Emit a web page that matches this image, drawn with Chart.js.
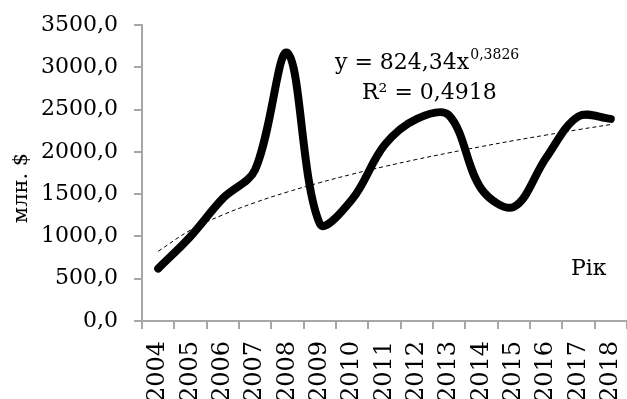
<!DOCTYPE html>
<html>
<head>
<meta charset="utf-8">
<script src="https://cdn.jsdelivr.net/npm/chart.js@4"></script>
<style>
  html, body { margin: 0; padding: 0; background: #fff; }
  #wrap { width: 627px; height: 399px; }
</style>
</head>
<body>
<div id="wrap"><canvas id="exportChart" width="627" height="399"></canvas></div>
<script>
// years and export values, млн. $
const years = ['2004','2005','2006','2007','2008','2009','2010','2011','2012','2013','2014','2015','2016','2017','2018'];
const exportValues = [620, 1000, 1450, 1790, 3170, 1150, 1440, 2080, 2390, 2430, 1560, 1350, 1930, 2420, 2390];
// power trend y = 824,34x^0,3826
const trendValues = [824, 1075, 1255, 1401, 1526, 1636, 1736, 1827, 1911, 1989, 2063, 2133, 2199, 2263, 2323];
const yTicks = [0, 500, 1000, 1500, 2000, 2500, 3000, 3500];

const FONT = "'DejaVu Serif'";
const axisGray = '#a6a6a6';

// extra texts: trend equation, R², axis word, y title
const notes = {
  id: 'notes',
  afterDraw(chart) {
    const c = chart.ctx;
    c.save();
    c.fillStyle = '#000';
    c.textBaseline = 'alphabetic';
    c.textAlign = 'left';
    c.font = "22px " + FONT;
    const eq = 'y = 824,34x';
    c.fillText(eq, 335, 69);
    const w = c.measureText(eq).width;
    c.font = "14px " + FONT;
    c.fillText('0,3826', 335 + w + 1, 59);
    c.font = "22px " + FONT;
    c.fillText('R² = 0,4918', 362, 99);
    c.fillText('Рік', 571, 275);
    // y axis title
    c.translate(22, 188);
    c.rotate(-Math.PI / 2);
    c.textAlign = 'center';
    c.textBaseline = 'middle';
    c.font = "21px " + FONT;
    c.fillText('млн. $', 0, 0);
    c.restore();
  }
};

const ctx = document.getElementById('exportChart').getContext('2d');
new Chart(ctx, {
  type: 'line',
  data: {
    labels: years,
    datasets: [{
      data: exportValues,
      borderColor: '#000',
      borderWidth: 8,
      borderCapStyle: 'round',
      borderJoinStyle: 'round',
      tension: 0.35,
      pointRadius: 0,
      fill: false
    }, {
      data: trendValues,
      borderColor: '#000',
      borderWidth: 1,
      borderDash: [4, 3],
      tension: 0.4,
      pointRadius: 0,
      fill: false
    }]
  },
  options: {
    responsive: false,
    animation: false,
    layout: { padding: { top: 25, right: -5, left: 0, bottom: 0 } },
    plugins: { legend: { display: false }, tooltip: { enabled: false } },
    scales: {
      x: {
        offset: true,
        grid: { display: true, drawOnChartArea: false, offset: true, color: axisGray, tickLength: 8, lineWidth: 2 },
        border: { color: axisGray, width: 2 },
        ticks: { minRotation: 90, maxRotation: 90, color: '#000', padding: 12, font: { family: FONT, size: 24 } },
        afterFit(s) { s.height = 78; s.paddingLeft = 0; s.paddingRight = 0; }
      },
      y: {
        min: 0, max: 3500,
        afterBuildTicks(s) { s.ticks = yTicks.map(v => ({ value: v })); },
        grid: { display: true, drawOnChartArea: false, color: axisGray, tickLength: 8, lineWidth: 2 },
        border: { color: axisGray, width: 2 },
        ticks: {
          color: '#000', padding: 16,
          font: { family: FONT, size: 22 },
          callback: v => v.toFixed(1).replace('.', ',')
        },
        afterFit(s) { s.width = 142; s.paddingTop = 0; s.paddingBottom = 0; }
      }
    }
  },
  plugins: [notes]
});
</script>
</body>
</html>
